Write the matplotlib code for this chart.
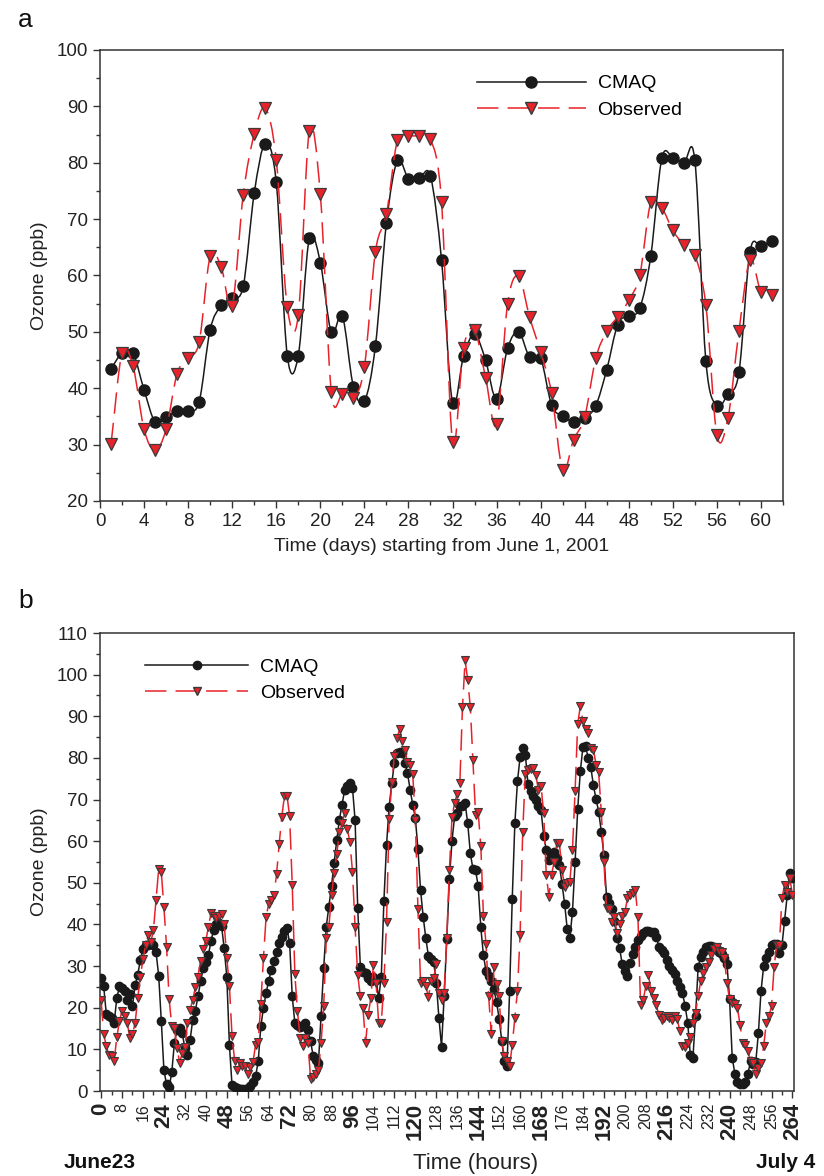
import numpy as np
import matplotlib
matplotlib.use("Agg")
import matplotlib.pyplot as plt
from matplotlib.path import Path
from matplotlib.patches import PathPatch
from matplotlib.lines import Line2D
from matplotlib.ticker import MultipleLocator

plt.rcParams['font.family'] = ['Liberation Sans', 'DejaVu Sans']

# panel a: daily values, June 1 - July 31 2001
days = np.arange(1, 62)
cmaq_daily = [43.5, 46.2, 46.2, 39.7, 34.0, 34.9, 35.9, 36.0, 37.6, 50.4,
              54.7, 56.0, 58.1, 74.6, 83.4, 76.5, 45.8, 45.8, 66.6, 62.3,
              49.9, 52.8, 40.3, 37.7, 47.5, 69.3, 80.4, 77.2, 77.3, 77.6,
              62.8, 37.4, 45.7, 49.6, 45.0, 38.1, 47.1, 50.0, 45.5, 45.3,
              37.0, 35.0, 34.1, 34.7, 36.9, 43.3, 51.3, 52.9, 54.2, 63.5,
              80.8, 80.9, 79.9, 80.4, 44.8, 36.9, 39.0, 42.8, 64.2, 65.2,
              66.1]
obs_daily = [30.1, 46.2, 43.9, 32.7, 29.0, 32.7, 42.6, 45.4, 48.2, 63.4,
             61.5, 54.6, 74.3, 85.1, 89.7, 80.5, 54.4, 53.0, 85.7, 74.4,
             39.3, 38.9, 38.2, 43.8, 64.2, 70.9, 84.0, 84.7, 84.7, 84.2,
             73.1, 30.5, 47.2, 50.3, 41.9, 33.6, 55.0, 59.9, 52.6, 46.4,
             39.1, 25.5, 30.9, 34.9, 45.3, 50.1, 52.7, 55.6, 60.1, 73.0,
             72.0, 68.0, 65.4, 63.6, 54.7, 31.7, 34.7, 50.1, 62.8, 57.1,
             56.5]

# panel b: hourly values, June 23 - July 4
hours = np.arange(0, 265)
cmaq_hourly = [
    27.2, 25.1, 18.5, 18.0, 17.5, 16.3, 22.3, 25.1, 24.7, 24.0,
    21.8, 23.4, 20.4, 25.5, 27.9, 31.5, 34.1, 35.1, 35.1, 35.5,
    35.1, 33.3, 27.7, 16.8, 5.0, 1.6, 0.9, 4.5, 11.6, 14.7,
    15.1, 13.9, 10.3, 8.7, 12.3, 17.1, 19.3, 22.7, 26.3, 29.5,
    31.1, 32.7, 36.1, 38.7, 40.1, 40.3, 39.7, 34.3, 27.5, 11.1,
    1.4, 0.9, 0.8, 0.6, 0.5, 0.4, 0.6, 1.2, 2.2, 3.5,
    7.1, 15.5, 20.0, 23.5, 26.5, 29.0, 31.2, 33.5, 35.5, 37.0,
    38.5, 39.1, 35.5, 22.7, 16.3, 15.9, 15.3, 15.6, 16.4, 14.7,
    11.9, 8.4, 7.5, 6.7, 17.9, 29.5, 39.5, 44.3, 49.3, 54.7,
    60.3, 65.1, 68.8, 72.2, 73.3, 74.0, 72.8, 65.0, 43.9, 29.9,
    28.7, 28.3, 27.1, 26.3, 27.5, 26.7, 22.3, 27.5, 45.7, 59.0,
    68.3, 73.9, 78.7, 81.1, 81.5, 81.1, 78.8, 76.4, 72.4, 68.8,
    65.6, 58.1, 48.2, 41.8, 36.7, 32.4, 31.6, 31.0, 26.0, 17.6,
    10.6, 22.7, 36.5, 50.9, 60.1, 66.0, 66.8, 68.4, 68.5, 69.1,
    64.3, 57.1, 53.3, 53.0, 49.2, 39.3, 32.6, 28.8, 27.6, 26.3,
    24.4, 21.4, 17.4, 12.0, 7.2, 6.0, 24.0, 46.1, 64.3, 74.4,
    80.2, 82.4, 80.8, 73.8, 72.0, 70.8, 70.0, 68.5, 67.5, 61.3,
    57.9, 55.4, 57.0, 57.5, 56.0, 54.3, 49.8, 45.0, 38.9, 36.7,
    43.1, 55.0, 67.7, 76.8, 82.6, 82.8, 80.0, 77.8, 73.4, 70.1,
    67.1, 62.3, 56.7, 46.7, 45.1, 43.7, 40.9, 36.7, 34.3, 30.4,
    28.9, 27.6, 30.7, 32.9, 34.7, 36.3, 37.3, 38.0, 38.4, 38.5,
    38.2, 38.3, 37.1, 34.7, 33.9, 33.1, 31.5, 30.0, 29.0, 28.2,
    26.5, 25.0, 23.5, 20.5, 16.4, 8.7, 8.0, 18.0, 29.9, 32.1,
    33.5, 34.5, 34.9, 34.8, 34.5, 34.0, 33.5, 32.9, 31.9, 30.5,
    22.0, 8.0, 4.2, 2.2, 1.8, 1.8, 2.2, 4.2, 7.1, 6.5,
    7.0, 14.0, 24.0, 30.0, 32.0, 33.5, 35.1, 35.3, 35.3, 33.1,
    35.0, 40.9, 47.0, 52.3, 51.1]
obs_hourly = [
    21.9, 13.7, 10.7, 8.7, 8.3, 7.3, 12.9, 16.7, 19.3, 18.0,
    16.4, 12.7, 13.7, 16.3, 22.3, 27.5, 31.6, 35.1, 37.5, 35.7,
    38.7, 45.9, 53.3, 52.5, 44.1, 34.7, 22.0, 15.6, 15.1, 10.3,
    6.8, 9.1, 10.5, 16.3, 19.5, 21.9, 24.9, 27.5, 31.3, 34.1,
    36.1, 39.5, 42.8, 42.0, 41.5, 42.1, 42.5, 40.2, 32.0, 25.3,
    13.3, 7.3, 5.0, 6.7, 6.0, 6.0, 4.2, 5.8, 6.9, 11.1,
    11.8, 21.0, 31.9, 41.7, 45.0, 45.8, 47.0, 52.0, 59.3, 65.8,
    70.8, 70.9, 66.0, 49.5, 28.0, 19.1, 12.7, 10.7, 12.7, 11.5,
    3.0, 3.4, 4.2, 5.0, 11.5, 20.3, 36.7, 39.5, 47.1, 52.3,
    56.9, 62.1, 64.3, 66.7, 62.9, 59.9, 52.7, 39.3, 27.9, 22.7,
    19.9, 11.5, 18.3, 22.3, 30.3, 26.0, 16.4, 16.4, 26.0, 40.5,
    65.3, 74.1, 80.5, 84.8, 86.9, 84.0, 82.0, 78.9, 78.4, 76.2,
    65.0, 43.7, 25.9, 26.3, 25.2, 22.5, 26.5, 27.1, 30.5, 23.5,
    21.9, 23.6, 36.7, 53.0, 65.8, 69.2, 71.4, 74.0, 92.2, 103.4,
    98.8, 92.2, 79.4, 66.3, 66.9, 58.9, 42.1, 35.3, 22.7, 13.7,
    29.9, 25.7, 22.8, 11.9, 8.3, 7.1, 6.0, 11.1, 17.5, 24.1,
    37.5, 62.3, 76.2, 77.0, 77.3, 77.6, 76.0, 72.2, 73.3, 66.7,
    51.9, 46.7, 51.9, 55.0, 59.5, 59.5, 53.1, 49.1, 49.9, 50.3,
    57.9, 72.0, 88.2, 92.4, 88.8, 86.9, 86.0, 82.5, 82.0, 78.4,
    76.5, 67.1, 55.1, 43.9, 43.7, 40.7, 41.7, 37.9, 40.0, 42.0,
    42.9, 46.3, 47.0, 47.5, 48.2, 41.9, 20.7, 21.9, 25.1, 27.9,
    24.0, 22.3, 20.7, 18.3, 17.1, 17.5, 18.0, 17.6, 17.1, 18.0,
    17.2, 14.5, 10.8, 10.5, 11.5, 12.9, 16.3, 18.8, 22.8, 26.5,
    28.3, 29.7, 31.1, 32.7, 34.1, 34.7, 33.7, 33.3, 31.9, 25.9,
    22.0, 21.2, 21.0, 19.9, 15.9, 11.5, 11.1, 9.5, 7.1, 6.7,
    4.2, 5.5, 6.7, 10.7, 16.3, 18.0, 20.3, 29.9, 35.0, 35.0,
    46.3, 49.5, 47.9, 51.1, 47.1]

assert len(cmaq_daily) == len(days) and len(obs_daily) == len(days)
assert len(cmaq_hourly) == len(hours) and len(obs_hourly) == len(hours)

BLACK = '#1a1a1a'
RED = '#e8222a'
EDGE = '#3a3a3a'
DASH = (0, (14, 6))


def smooth_path(x, y):
    # curve through the points as cubic bezier pieces (like the spline line)
    x = np.asarray(x, float)
    y = np.asarray(y, float)
    m = np.empty(len(x))
    m[1:-1] = (y[2:] - y[:-2]) / (x[2:] - x[:-2])
    m[0] = (y[1] - y[0]) / (x[1] - x[0])
    m[-1] = (y[-1] - y[-2]) / (x[-1] - x[-2])
    verts = [(x[0], y[0])]
    codes = [Path.MOVETO]
    for i in range(len(x) - 1):
        d = (x[i + 1] - x[i]) / 3.0
        verts += [(x[i] + d, y[i] + m[i] * d),
                  (x[i + 1] - d, y[i + 1] - m[i + 1] * d),
                  (x[i + 1], y[i + 1])]
        codes += [Path.CURVE4] * 3
    return Path(verts, codes)


def style_axes(ax):
    for s in ax.spines.values():
        s.set_color('#333333')
        s.set_linewidth(1.1)
    ax.tick_params(which='both', direction='out', colors='#333333',
                   labelcolor='#222222', width=1.0)
    ax.tick_params(which='major', length=5, labelsize=13.5)
    ax.tick_params(which='minor', length=3)


fig = plt.figure(figsize=(8.24, 11.76), dpi=100)

# ---- panel a
ax1 = fig.add_axes([100 / 824, 1 - 501 / 1176, 683 / 824, 451 / 1176])
ax1.add_patch(PathPatch(smooth_path(days, cmaq_daily), fill=False,
                        edgecolor=BLACK, lw=1.1, zorder=2))
ax1.plot(days, cmaq_daily, 'o', color=BLACK, ms=8, mec=BLACK, zorder=3)
ax1.add_patch(PathPatch(smooth_path(days, obs_daily), fill=False,
                        edgecolor=RED, lw=1.1, linestyle=DASH, zorder=4))
ax1.plot(days, obs_daily, 'v', color=RED, ms=8, mec=EDGE, mew=0.9, zorder=5)
ax1.set_xlim(0, 62)
ax1.set_ylim(20, 100)
ax1.xaxis.set_major_locator(MultipleLocator(4))
ax1.xaxis.set_minor_locator(MultipleLocator(2))
ax1.yaxis.set_major_locator(MultipleLocator(10))
ax1.yaxis.set_minor_locator(MultipleLocator(5))
style_axes(ax1)
ax1.set_ylabel('Ozone (ppb)', fontsize=14, color='#222222', labelpad=6)
ax1.set_xlabel('Time (days) starting from June 1, 2001', fontsize=14,
               color='#222222', labelpad=6)

h1 = [Line2D([], [], color=BLACK, lw=1.1, marker='o', ms=8),
      Line2D([], [], color=RED, lw=1.1, ls=DASH, marker='v', ms=8,
             mfc=RED, mec=EDGE)]
ax1.legend(h1, ['CMAQ', 'Observed'], loc='upper left',
           bbox_to_anchor=(0.552, 0.945), frameon=False, fontsize=14,
           handlelength=5.6, handletextpad=0.6, numpoints=1,
           borderaxespad=0, borderpad=0, labelspacing=0.45)
fig.text(18 / 824, 1 - 20 / 1176, 'a', fontsize=19, va='center',
         color='#111111')

# ---- panel b
ax2 = fig.add_axes([99.5 / 824, 1 - 1091 / 1176, 694 / 824, 458 / 1176])
ax2.plot(hours, cmaq_hourly, '-o', color=BLACK, lw=1.1, ms=6, mec=BLACK,
         zorder=3)
ax2.plot(hours, obs_hourly, color=RED, lw=1.1, ls=DASH, zorder=4)
ax2.plot(hours, obs_hourly, 'v', color=RED, ms=6, mec=EDGE, mew=0.8,
         zorder=5)
ax2.set_xlim(-0.6, 264.4)
ax2.set_ylim(0, 110)
ax2.set_xticks(np.arange(0, 265, 8))
ax2.xaxis.set_minor_locator(MultipleLocator(4))
ax2.yaxis.set_major_locator(MultipleLocator(10))
ax2.yaxis.set_minor_locator(MultipleLocator(5))
style_axes(ax2)
ax2.set_xticklabels([str(t) for t in range(0, 265, 8)], rotation=90)
for t, lab in zip(range(0, 265, 8), ax2.get_xticklabels()):
    if t % 24 == 0:
        lab.set_fontweight('bold')
        lab.set_fontsize(16)
    else:
        lab.set_fontsize(11.5)
ax2.set_ylabel('Ozone (ppb)', fontsize=14, color='#222222', labelpad=6)

h2 = [Line2D([], [], color=BLACK, lw=1.1, marker='o', ms=6),
      Line2D([], [], color=RED, lw=1.1, ls=DASH, marker='v', ms=6,
             mfc=RED, mec=EDGE)]
ax2.legend(h2, ['CMAQ', 'Observed'], loc='upper left',
           bbox_to_anchor=(0.066, 0.945), frameon=False, fontsize=14,
           handlelength=5.3, handletextpad=0.6, numpoints=1,
           borderaxespad=0, borderpad=0, labelspacing=0.45)
fig.text(18 / 824, 1 - 601 / 1176, 'b', fontsize=19, va='center',
         color='#111111')

narrow = ['Liberation Sans Narrow', 'Liberation Sans', 'DejaVu Sans']
fig.text(100 / 824, 1 - 1163 / 1176, 'June23', fontsize=15,
         fontweight='bold', ha='center', va='center', family=narrow,
         color='#111111')
fig.text(476 / 824, 1 - 1163 / 1176, 'Time (hours)', fontsize=16,
         ha='center', va='center', family=narrow, color='#222222')
fig.text(786 / 824, 1 - 1163 / 1176, 'July 4', fontsize=15,
         fontweight='bold', ha='center', va='center', family=narrow,
         color='#111111')

fig.savefig('out.png', dpi=100)
